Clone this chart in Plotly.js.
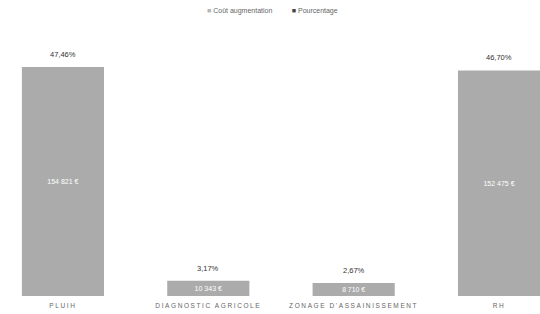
<!DOCTYPE html>
<html><head><meta charset="utf-8">
<script src="https://cdn.plot.ly/plotly-3.0.1.min.js"></script>
<style>html,body{margin:0;padding:0;background:#fff}#c{width:540px;height:314px}</style>
</head><body><div id="c"></div>
<script>
const categories = ["PLUIH", "DIAGNOSTIC AGRICOLE", "ZONAGE D'ASSAINISSEMENT", "RH"];
const costs = [154821, 10343, 8710, 152475];
const costLabels = ["154 821 €", "10 343 €", "8 710 €", "152 475 €"];
const percentLabels = ["47,46%", "3,17%", "2,67%", "46,70%"];
const seriesNames = ["Coût augmentation", "Pourcentage"];

const font = "Liberation Sans, Arial, sans-serif";
const traces = [
  {type: "bar", name: seriesNames[0], x: categories, y: costs,
   text: costLabels, textposition: "inside", insidetextanchor: "middle",
   textfont: {family: font, size: 7, color: "#ffffff"},
   marker: {color: "#ababab"}, width: 0.565, hoverinfo: "none", showlegend: false}
];
const annotations = categories.map((c, i) => ({
  x: c, y: costs[i], xref: "x", yref: "y", text: percentLabels[i], showarrow: false,
  yanchor: "bottom", yshift: 6, font: {family: font, size: 7.5, color: "#333"}
}));
annotations.push({
  xref: "paper", yref: "paper", x: 0.505, y: 0.962, xanchor: "center", yanchor: "middle",
  showarrow: false, font: {family: font, size: 7, color: "#666"},
  text: '<span style="color:#b5b5b5">■</span> ' + seriesNames[0] +
        '          <span style="color:#444">■</span> ' + seriesNames[1]
});
const layout = {
  width: 540, height: 314,
  margin: {l: 0, r: 0, t: 0, b: 18},
  paper_bgcolor: "#fff", plot_bgcolor: "#fff",
  showlegend: false,
  annotations: annotations,
  xaxis: {type: "category", range: [-0.433, 3.282], showgrid: false, zeroline: false,
          showline: false, ticks: "", ticklabelstandoff: 4,
          tickfont: {family: font, size: 6.5, color: "#666"}},
  yaxis: {range: [0, 200120], visible: false},
  bargap: 0.435
};
Plotly.newPlot("c", traces, layout, {staticPlot: true}).then(() => {
  document.querySelectorAll(".xtick text").forEach(t => t.style.letterSpacing = "1.6px");
});
</script></body></html>
